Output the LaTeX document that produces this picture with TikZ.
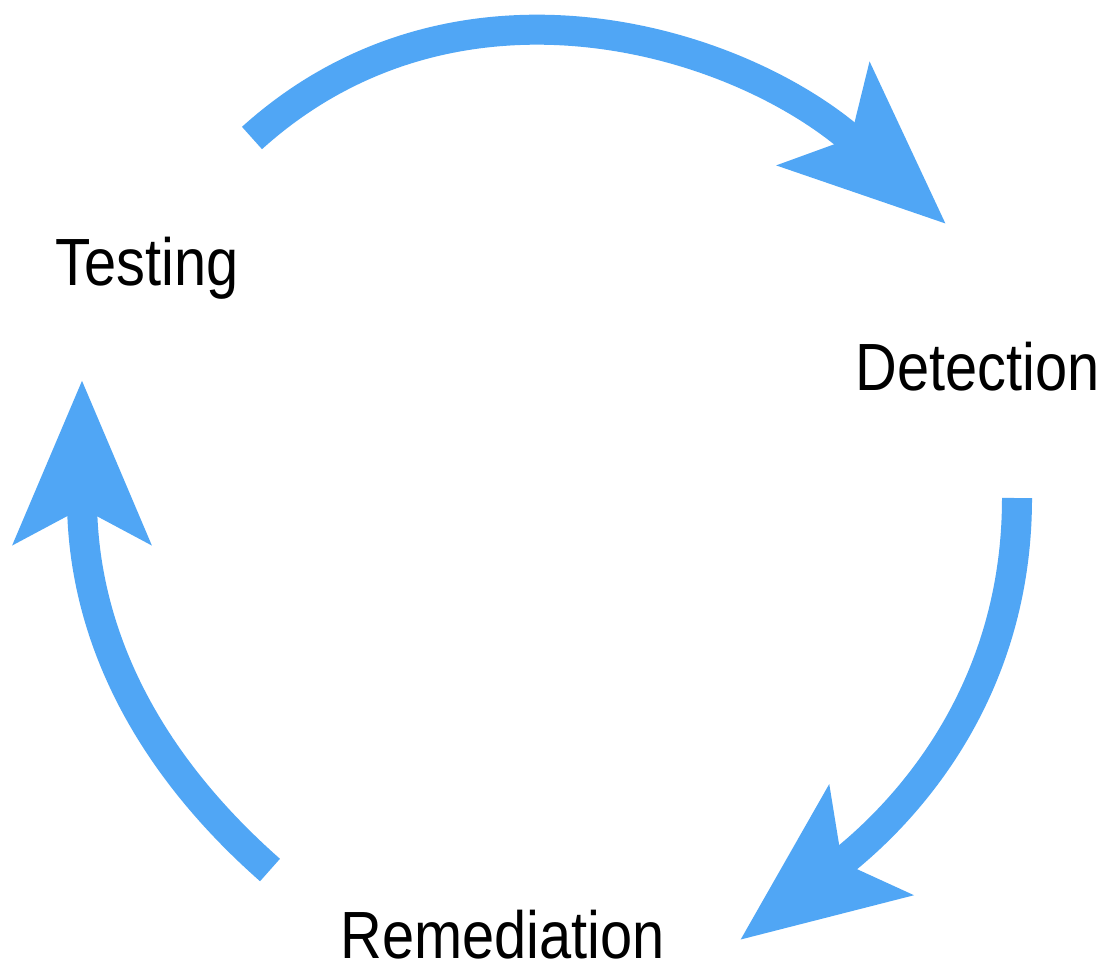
\documentclass[tikz,border=0pt]{standalone}
\usepackage{fontspec}
\setmainfont{Liberation Sans}[FakeStretch=0.865]
\usetikzlibrary{arrows.meta}
\definecolor{cycleblue}{RGB}{80,166,245}
\tikzset{
  cyclearrow/.style={draw=cycleblue, line width=0.75cm,
    -{Stealth[length=4.05cm, width=3.35cm, inset=0.85cm, fill=cycleblue]}},
  steplabel/.style={anchor=base west, inner sep=0pt, font=\fontsize{47.5}{50}\selectfont}
}
\begin{document}
\begin{tikzpicture}[x=0.025cm, y=-0.025cm]
        \useasboundingbox[fill=white] (0,0) rectangle (1103,969);
        \node[steplabel] (testing) at (55,285) {Testing};
        \node[steplabel] (detection) at (855,390) {Detection};
        \node[steplabel] (remediation) at (340,958) {Remediation};

        \coordinate (t1) at (252,138); \coordinate (h1) at (946,224);
        \coordinate (t2) at (1017,498); \coordinate (h2) at (740,940);
        \coordinate (t3) at (270,870); \coordinate (h3) at (82,380);

        % Testing -> Detection -> Remediation -> Testing
        \draw[cyclearrow] (t1) .. controls (457,-47) and (740,39) .. (h1);
        \draw[cyclearrow] (t2) .. controls (1017,698) and (900,818) .. (h2);
        \draw[cyclearrow] (t3) .. controls (135,751) and (82,620) .. (h3);
    \end{tikzpicture}
\end{document}
